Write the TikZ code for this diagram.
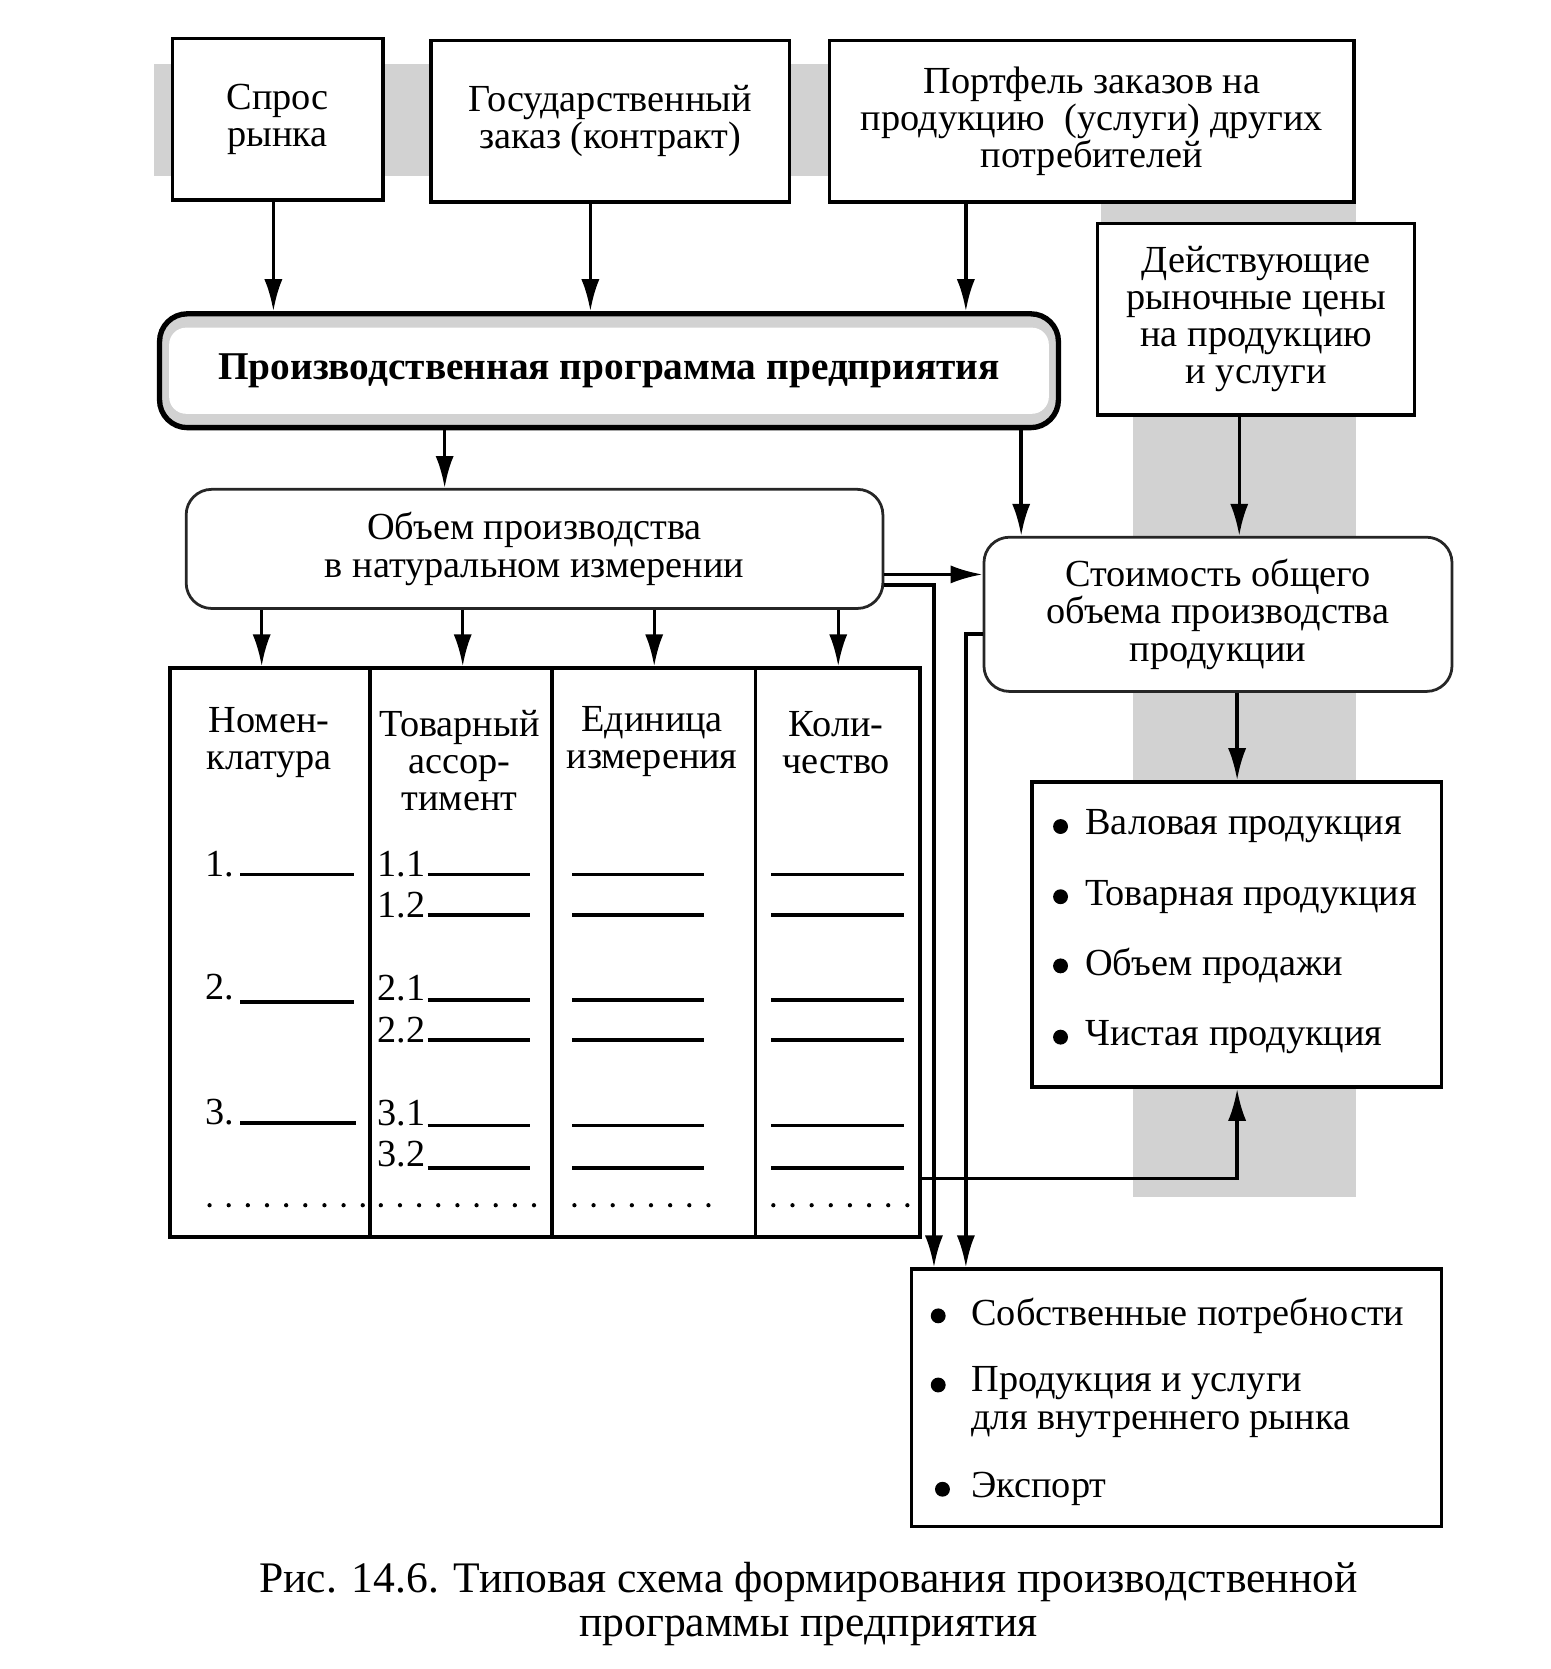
\documentclass[tikz,border=0pt]{standalone}
\usepackage{fontspec}
\setmainfont{Liberation Serif}
\usetikzlibrary{arrows.meta}
\newcommand\myfs{\fontsize{36}{35}\selectfont}
\newcommand\mycapfs{\fontsize{41}{42}\selectfont}
\tikzset{
  box/.style={draw=black, line width=3.2pt, fill=white, align=center, inner sep=0pt, font=\myfs},
  rbox/.style={box, rounded corners=24pt, line width=2.6pt, draw=black!85},
  arr/.style={line width=3.2pt, -{Latex[length=30pt,width=17pt]}},
  conn/.style={line width=3.2pt},
  blank/.style={line width=3.5pt},
  dotrow/.style={line width=4pt, dash pattern=on 0pt off 18pt, line cap=round},
  shade/.style={fill=gray!35, draw=none},
  txt/.style={inner sep=0pt, font=\myfs, align=center},
  ltxt/.style={inner sep=0pt, font=\myfs, align=left, anchor=west},
  bul/.style={circle, fill=black, inner sep=0pt, minimum size=14pt},
}
\begin{document}
\begin{tikzpicture}[x=1pt,y=-1pt]
\useasboundingbox (0,0) rectangle (1458,1569);
% gray backgrounds
\fill[shade] (145,60) rectangle (1275,165);
\fill[shade] (1035,185) rectangle (1275,215);
\fill[shade] (1065,190) rectangle (1275,1125);
% top boxes
\node[box, minimum width=198pt, minimum height=152pt] (spros) at (261,112) {Спрос\\рынка};
\node[box, minimum width=337pt, minimum height=152pt] (gos) at (573.5,114) {Государственный\\заказ (контракт)};
\node[box, minimum width=493pt, minimum height=152pt] (portf) at (1026.5,114) {Портфель заказов на\\продукцию~~(услуги) других\\потребителей};
\node[box, minimum width=298pt, minimum height=180pt] (deist) at (1181,300) {Действующие\\рыночные цены\\на продукцию\\и услуги};
% main program box
\node[box, rounded corners=26pt, line width=5pt, fill=gray!35, minimum width=845pt, minimum height=107pt,
  font=\fontsize{37}{35}\selectfont\bfseries,
  path picture={\fill[white, rounded corners=16pt] ([shift={(9,13)}]path picture bounding box.north west) rectangle ([shift={(-9,-13)}]path picture bounding box.south east);}]
  (prog) at (572.5,348.5) {Производственная программа предприятия};
\node[rbox, minimum width=655pt, minimum height=112pt] (obem) at (502.5,516) {Объем производства\\в натуральном измерении};
\node[rbox, minimum width=440pt, minimum height=145pt] (stoim) at (1145,577.5) {Стоимость общего\\объема производства\\продукции};
% table
\node[box, minimum width=705pt, minimum height=535pt] (tab) at (512.5,895.5) {};
\draw[conn] (348,628) -- (348,1163);
\draw[conn] (519,628) -- (519,1163);
\draw[conn] (710,628) -- (710,1163);
\node[txt] (h1) at (253,698) {Номен-\\клатура};
\node[txt] (h2) at (432,715) {Товарный\\ассор-\\тимент};
\node[txt] (h3) at (613,697) {Единица\\измерения};
\node[txt] (h4) at (786,698) {Коли-\\чество};
\node[ltxt] (n1) at (193,812) {1.};
\node[ltxt] (n2) at (193,928) {2.};
\node[ltxt] (n3) at (193,1045) {3.};
\draw[blank] (226,822) -- (333,822);
\draw[blank] (226,942) -- (333,942);
\draw[blank] (226,1056) -- (335,1056);
\node[ltxt] (n11) at (355,812) {1.1};
\node[ltxt] (n12) at (355,851) {1.2};
\node[ltxt] (n21) at (355,929) {2.1};
\node[ltxt] (n22) at (355,968) {2.2};
\node[ltxt] (n31) at (355,1046) {3.1};
\node[ltxt] (n32) at (355,1085) {3.2};
\foreach \yy in {822,860,940,978,1058,1098}{
  \draw[blank] (402,\yy) -- (498,\yy);
  \draw[blank] (538,\yy) -- (662,\yy);
  \draw[blank] (725,\yy) -- (850,\yy);
}
\draw[dotrow] (197,1133) -- (345,1133);
\draw[dotrow] (358,1133) -- (510,1133);
\draw[dotrow] (540,1133) -- (670,1133);
\draw[dotrow] (727,1133) -- (855,1133);
% list box
\node[box, minimum width=385pt, minimum height=287pt] (list) at (1162.5,878.5) {};
\node[bul] (lb1) at (997,777) {};
\node[bul] (lb2) at (997,843) {};
\node[bul] (lb3) at (997,908) {};
\node[bul] (lb4) at (997,975) {};
\node[ltxt] (l1) at (1020,777) {Валовая продукция};
\node[ltxt] (l2) at (1020,843) {Товарная продукция};
\node[ltxt] (l3) at (1020,908) {Объем продажи};
\node[ltxt] (l4) at (1020,975) {Чистая продукция};
% bottom box
\node[box, minimum width=498pt, minimum height=242pt] (bot) at (1106,1314) {};
\node[bul] (bb1) at (882,1237) {};
\node[bul] (bb2) at (882,1302) {};
\node[bul] (bb3) at (886,1400) {};
\node[ltxt] (t1) at (913,1237) {Собственные потребности};
\node[ltxt] (t2) at (913,1318) {Продукция и услуги\\для внутреннего рынка};
\node[ltxt] (t3) at (913,1400) {Экспорт};
% caption
\node[inner sep=0pt, font=\mycapfs, align=center] (cap) at (760,1508) {Рис. 14.6. Типовая схема формирования производственной\\программы предприятия};
% coordinates for connector columns
\coordinate (xa) at (257,0);
\coordinate (xb) at (555,0);
\coordinate (xc) at (908,0);
\coordinate (xd) at (418,0);
\coordinate (xe) at (960,0);
\coordinate (xf) at (1165,0);
\coordinate (xg) at (1163,0);
\coordinate (xh) at (878,0);
\coordinate (xi) at (908,0);
\coordinate (c1) at (246,0);
\coordinate (c2) at (435,0);
\coordinate (c3) at (615,0);
\coordinate (c4) at (788,0);
\coordinate (ya) at (0,540);
\coordinate (yb) at (0,550);
\coordinate (yc) at (0,596);
\coordinate (yd) at (0,1108);
% connectors
\draw[arr] (spros.south -| xa) -- (prog.north -| xa);
\draw[arr] (gos.south -| xb) -- (prog.north -| xb);
\draw[arr] (portf.south -| xc) -- (prog.north -| xc);
\draw[arr] (prog.south -| xd) -- (obem.north -| xd);
\draw[arr] (prog.south -| xe) -- (stoim.north -| xe);
\draw[arr] (deist.south -| xf) -- (stoim.north -| xf);
\draw[arr] (stoim.south -| xg) -- (list.north -| xg);
\draw[arr] (obem.east |- ya) -- (stoim.west |- ya);
\draw[arr] (obem.east |- yb) -| (bot.north -| xh);
\draw[arr] (stoim.west |- yc) -| (bot.north -| xi);
\draw[arr] (tab.east |- yd) -| (list.south -| xg);
\foreach \c in {c1,c2,c3,c4}{
  \draw[arr] (obem.south -| \c) -- (tab.north -| \c);
}
\end{tikzpicture}
\end{document}
